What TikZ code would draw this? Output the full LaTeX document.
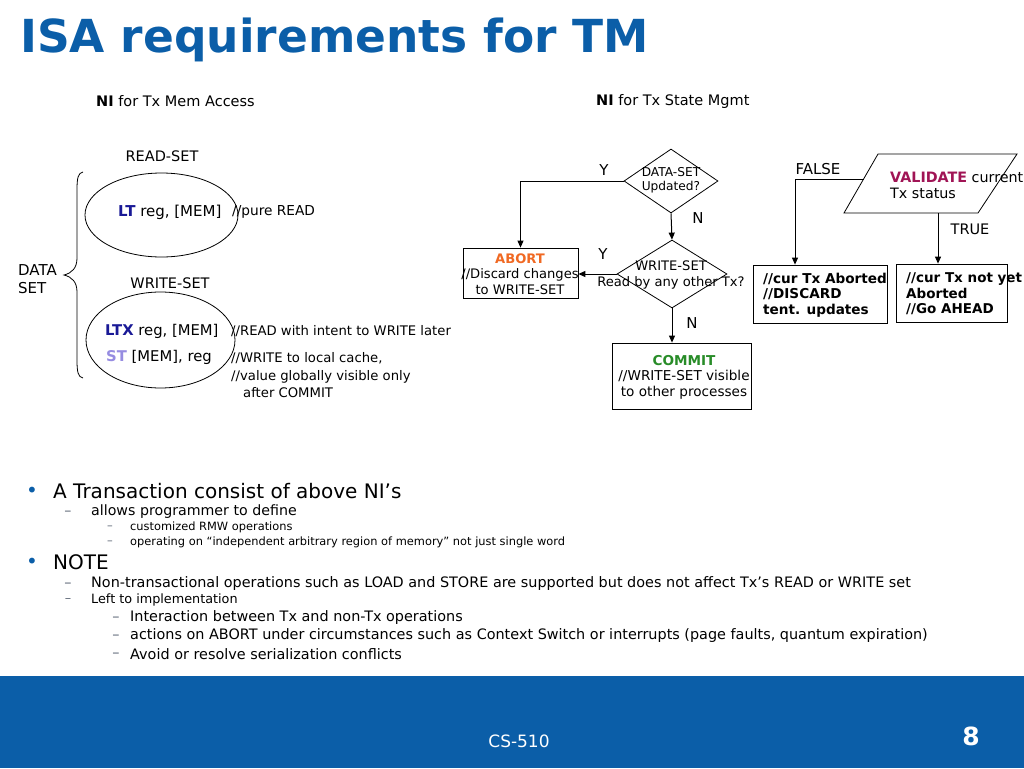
\documentclass[tikz,border=0pt]{standalone}
\usepackage{fontspec}
\setmainfont{DejaVu Sans}
\usetikzlibrary{arrows.meta}
\usetikzlibrary{shapes.geometric}
\usetikzlibrary{calc}
\usepackage{xcolor}

\definecolor{slideblue}{RGB}{11,94,168}
\definecolor{dashgray}{RGB}{95,105,120}
\definecolor{ltblue}{RGB}{25,25,150}
\definecolor{stlilac}{RGB}{150,140,225}
\definecolor{abortorange}{RGB}{240,105,35}
\definecolor{commitgreen}{RGB}{40,140,40}
\definecolor{validred}{RGB}{160,20,85}

\newcommand{\fsz}[2]{\fontsize{#1pt}{#2pt}\selectfont}

\tikzset{
  txt/.style={inner sep=0pt, anchor=west},
  mid/.style={inner sep=0pt, align=center},
  flow/.style={-{Triangle[length=7pt,width=6pt]}, line width=1pt},
  decide/.style={diamond, draw, line width=0.8pt, inner sep=0pt},
  stepbox/.style={rectangle, draw, line width=0.8pt, inner sep=0pt},
  setring/.style={ellipse, draw, line width=0.8pt, inner sep=0pt},
}

\begin{document}
\begin{tikzpicture}[x=1pt,y=-1pt]
      \useasboundingbox (0,0) rectangle (1024,768);

      % Title
      \node[txt, font=\fsz{45.5}{50}\bfseries, text=slideblue] (title) at (20,40) {ISA requirements for TM};
      \node[txt, font=\fsz{14.5}{17}] (hmem) at (96,101) {\textbf{NI} for Tx Mem Access};
      \node[txt, font=\fsz{14.5}{17}] (hstate) at (596,101) {\textbf{NI} for Tx State Mgmt};

      % Data set
      \node[mid, font=\fsz{14.5}{17}] (rset) at (162,156) {READ-SET};
      \node[setring, minimum width=153pt, minimum height=84pt] (ering) at (161.5,215) {};
      \node[txt, font=\fsz{15}{17}] (lt) at (118,212) {\textbf{\color{ltblue}LT} reg, [MEM]};
      \node[txt, font=\fsz{13.7}{17}] (ltc) at (232,212) {//pure READ};
      \node[mid, font=\fsz{14.5}{17}] (wset) at (170,283) {WRITE-SET};
      \node[setring, minimum width=149pt, minimum height=96pt] (wring) at (160.5,340) {};
      \node[txt, font=\fsz{14.8}{17}] (ltx) at (105,331) {\textbf{\color{ltblue}LTX} reg, [MEM]};
      \node[txt, font=\fsz{14.8}{17}] (st) at (106,357) {\textbf{\color{stlilac}ST} [MEM], reg};
      \node[txt, font=\fsz{13.2}{16}] (ltxc) at (231,331) {//READ with intent to WRITE later};
      \node[txt, font=\fsz{13.2}{16}] (stc) at (231,358) {//WRITE to local cache,};
      \node[txt, font=\fsz{13.2}{16}] (stv) at (231,377) {//value globally visible only};
      \node[txt, font=\fsz{13.2}{16}] (sta) at (243,393) {after COMMIT};
      \node[txt, font=\fsz{15}{18}, align=left] (dset) at (18,279) {DATA\\SET};
      \draw[line width=0.8pt] (83,172) .. controls (78,173) and (77,178) .. (77,190) -- (77,258)
            .. controls (77,268) and (72,273) .. (64,275) .. controls (72,277) and (77,282) .. (77,292)
            -- (77,360) .. controls (77,372) and (78,377) .. (83,378);

      % Tx state flow
      \node[decide, minimum width=94pt, minimum height=64pt] (dupd) at (671,181) {};
      \node[mid, font=\fsz{12.2}{14.5}] (dupdt) at (671,180) {DATA-SET\\Updated?};
      \node[decide, minimum width=110pt, minimum height=68pt] (drd) at (672,274) {};
      \node[mid, font=\fsz{13.1}{15.5}] (drdt) at (671,275) {WRITE-SET\\Read by any other Tx?};
      \node[stepbox, minimum width=115pt, minimum height=50pt] (abort) at (520.5,273) {};
      \node[mid, font=\fsz{13.1}{15.5}] (abortt) at (520,274) {\textbf{\color{abortorange}ABORT}\\//Discard changes\\to WRITE-SET};
      \node[stepbox, minimum width=139pt, minimum height=66pt] (commit) at (681.5,376) {};
      \node[mid, font=\fsz{13.6}{15.5}] (committ) at (684,377) {\textbf{\color{commitgreen}COMMIT}\\//WRITE-SET visible\\to other processes};

      \draw[flow] (dupd.west) -| (abort.north);
      \draw[flow] (dupd.south) -- (drd.north);
      \draw[flow] (drd.west) -- (drd.west -| abort.east);
      \draw[flow] (drd.south) -- (drd.south |- commit.north);
      \node[font=\fsz{15}{17}] (y1) at (604,170) {Y};
      \node[font=\fsz{15}{17}] (n1) at (698,218) {N};
      \node[font=\fsz{15}{17}] (y2) at (603,254) {Y};
      \node[font=\fsz{15}{17}] (n2) at (692,323) {N};

      % Validate
      \coordinate (vbl) at (844,213);
      \coordinate (vbr) at (978,213);
      \coordinate (vtr) at (1017,154);
      \coordinate (vtl) at (878,154);
      \draw[line width=0.8pt] (vbl) -- (vbr) -- (vtr) -- (vtl) -- cycle;
      \coordinate (vfalse) at ($(vbl)!0.576!(vtl)$);
      \coordinate (vtrue) at (938,213);
      \node[txt, font=\fsz{14.3}{16}, align=left] (valt) at (890,185) {\textbf{\color{validred}VALIDATE} current\\Tx status};
      \node[stepbox, minimum width=134pt, minimum height=58pt] (curab) at (820,294) {};
      \node[txt, font=\fsz{13.6}{15.5}\bfseries, align=left] (curabt) at (763,295) {//cur Tx Aborted\\//DISCARD\\tent. updates};
      \node[stepbox, minimum width=111pt, minimum height=58pt] (curok) at (951.5,293) {};
      \node[txt, font=\fsz{13.5}{15.5}\bfseries, align=left] (curokt) at (906,294) {//cur Tx not yet\\Aborted\\//Go AHEAD};
      \draw[flow] (vfalse) -| ([xshift=-25pt]curab.north);
      \draw[flow] (vtrue) -- (vtrue |- curok.north);
      \node[font=\fsz{15}{17}] (vf) at (818,169) {FALSE};
      \node[font=\fsz{14.5}{17}] (vt) at (970,229) {TRUE};

      % Bullets
      \node[mid, font=\fsz{20}{22}, text=slideblue] (b1) at (32,492) {•};
      \node[txt, font=\fsz{20}{22}] (b1t) at (53,491) {A Transaction consist of above NI’s};
      \node[mid, font=\fsz{14.2}{16}, text=dashgray] (b11) at (68,513) {–};
      \node[txt, font=\fsz{14.2}{16}] (b11t) at (91,512) {allows programmer to define};
      \foreach \y/\t in {527/{customized RMW operations},
                         542/{operating on “independent arbitrary region of memory” not just single word}}
      {
        \node[mid, font=\fsz{11.4}{13}, text=dashgray] (c\y) at (110,\y+1) {–};
        \node[txt, font=\fsz{11.4}{13}] (ct\y) at (130,\y) {\t};
      }
      \node[mid, font=\fsz{20}{22}, text=slideblue] (b2) at (32,563) {•};
      \node[txt, font=\fsz{20}{22}] (b2t) at (53,562) {NOTE};
      \node[mid, font=\fsz{14.4}{16}, text=dashgray] (b21) at (68,585) {–};
      \node[txt, font=\fsz{14.4}{16}] (b21t) at (91,584) {Non-transactional operations such as LOAD and STORE are supported but does not affect Tx’s READ or WRITE set};
      \node[mid, font=\fsz{12.8}{15}, text=dashgray] (b22) at (68,601) {–};
      \node[txt, font=\fsz{12.8}{15}] (b22t) at (91,600) {Left to implementation};
      \foreach \y/\t in {618/{Interaction between Tx and non-Tx operations},
                         636/{actions on ABORT under circumstances such as Context Switch or interrupts (page faults, quantum expiration)},
                         654/{Avoid or resolve serialization conflicts}}
      {
        \node[mid, font=\fsz{14.4}{16}, text=dashgray] (d\y) at (116,\y+1) {–};
        \node[txt, font=\fsz{14.4}{16}] (dt\y) at (130,\y) {\t};
      }

      % Footer
      \fill[slideblue] (0,676) rectangle (1024,768);
      \node[mid, font=\fsz{17}{19}, text=white] (course) at (519,741) {CS-510};
      \node[mid, font=\fsz{25}{27}\bfseries, text=white] (pageno) at (971,736) {8};
  \end{tikzpicture}
\end{document}
